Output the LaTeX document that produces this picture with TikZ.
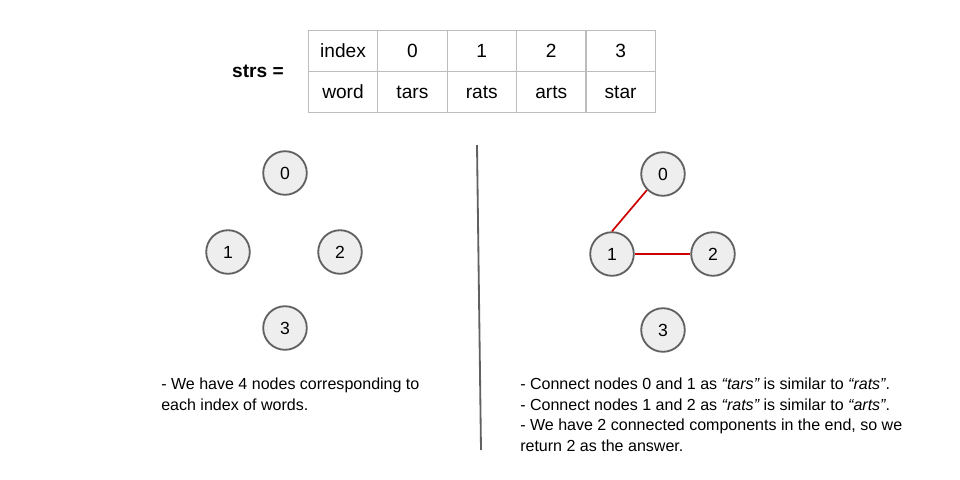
\documentclass[tikz,border=0pt]{standalone}
\usepackage{fontspec}
\setmainfont{Liberation Sans}
\usetikzlibrary{positioning}
\definecolor{vfill}{HTML}{EEEEEE}
\definecolor{vline}{HTML}{616161}
\definecolor{edgered}{HTML}{CC0000}
\definecolor{gridgray}{HTML}{BDBDBD}
\tikzset{
  vertex/.style={circle, draw=vline, fill=vfill, line width=1.3pt,
    minimum size=31pt, inner sep=0pt, font=\fontsize{12.5}{14}\selectfont},
  cell/.style={draw=gridgray, line width=0.7pt, minimum width=49.2pt,
    minimum height=29pt, inner sep=0pt, text height=2ex, text depth=.25ex,
    font=\fontsize{13.6}{16}\selectfont},
  note/.style={align=left, anchor=north west, inner sep=0pt,
    font=\fontsize{11.4}{14.5}\selectfont}
}

\begin{document}
\begin{tikzpicture}[x=0.025cm, y=-0.025cm]
  \useasboundingbox (0,0) rectangle (960,480);
  % the strs array
  \node[font=\fontsize{13.6}{16}\selectfont\bfseries] (strs) at (258,71) {strs =};
  \foreach \lab/\word [count=\i from 0] in {index/word, 0/tars, 1/rats, 2/arts, 3/star} {
    \node[cell] (h\i) at (343+69.4*\i,51) {\lab};
    \node[cell] (w\i) at (343+69.4*\i,92) {\word};
  }
  % left graph, no edges yet
  \node[vertex] (L0) at (285,173) {0};
  \node[vertex] (L1) at (228,252) {1};
  \node[vertex] (L2) at (340,252) {2};
  \node[vertex] (L3) at (285,328) {3};
  % divider
  \coordinate (top) at (477,145);
  \coordinate (bot) at (481,450);
  \draw[vline, line width=1.3pt] (top) -- (bot);
  % right graph
  \node[vertex] (R0) at (663,174) {0};
  \node[vertex] (R1) at (612,254) {1};
  \node[vertex] (R2) at (713,254) {2};
  \node[vertex] (R3) at (663,330) {3};
  \draw[edgered, line width=1.2pt] (R0.south west) -- (R1.north);
  \draw[edgered, line width=1.2pt] (R1) -- (R2);
  % notes
  \node[note] (lnote) at (161,378) {- We have 4 nodes corresponding to\\each index of words.};
  \node[note] (rnote) at (520,378) {- Connect nodes 0 and 1 as {\itshape “tars”} is similar to {\itshape “rats”}.\\
    - Connect nodes 1 and 2 as {\itshape “rats”} is similar to {\itshape “arts”}.\\
    - We have 2 connected components in the end, so we\\
    return 2 as the answer.};
\end{tikzpicture}
\end{document}
